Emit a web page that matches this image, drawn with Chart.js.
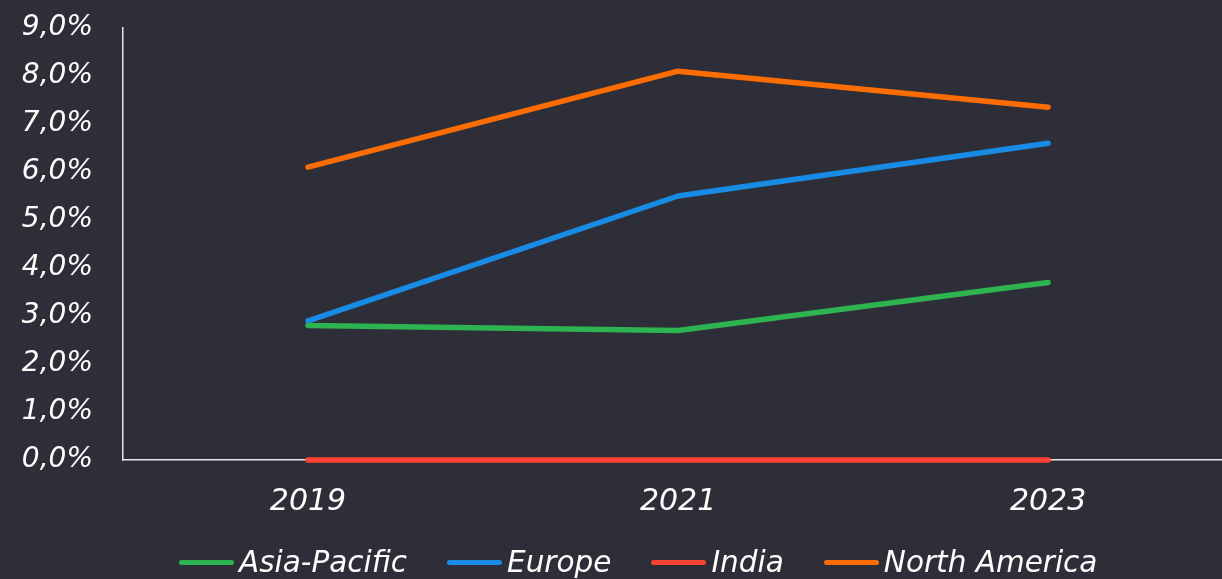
<!DOCTYPE html>
<html>
<head>
<meta charset="utf-8">
<script src="https://cdn.jsdelivr.net/npm/chart.js@4"></script>
<style>
  html, body { margin: 0; padding: 0; background: #2e2e38; }
  #wrap { position: relative; width: 1222px; height: 579px; }
  #legend {
    position: absolute; left: 179px; top: 545px;
    display: flex; gap: 40px;
    font-family: "DejaVu Sans"; font-style: italic; font-size: 29.5px;
    line-height: 35px; color: #ffffff; white-space: nowrap;
  }
  #legend .item { display: flex; align-items: center; }
  #legend .swatch { width: 55px; height: 5px; border-radius: 3px; margin-right: 5px; }
</style>
</head>
<body>
<div id="wrap">
  <canvas id="lineChart" width="1222" height="579"></canvas>
  <div id="legend"></div>
</div>
<script>
const CHART = document.getElementById('lineChart');

var years = [2019, 2021, 2023];
var seriesNames = ['Asia-Pacific', 'Europe', 'India', 'North America'];
var seriesColors = ['#2db350', '#188ce5', '#ff4136', '#ff6d00'];
var asiaPacific = [2.8, 2.7, 3.7];
var europe = [2.9, 5.5, 6.6];
var india = [0.0, 0.0, 0.0];
var northAmerica = [6.1, 8.1, 7.35];
var yTicks = [0, 1, 2, 3, 4, 5, 6, 7, 8, 9];

var seriesValues = [asiaPacific, europe, india, northAmerica];

var tickFont = { family: 'DejaVu Sans', style: 'italic', size: 30 };

var datasets = seriesNames.map(function(name, i) {
  return {
    label: name,
    data: years.map(function(y, j) { return { x: y, y: seriesValues[i][j] }; }),
    borderColor: seriesColors[i],
    backgroundColor: seriesColors[i],
    borderWidth: 5.5,
    borderCapStyle: 'round',
    borderJoinStyle: 'round',
    pointRadius: 0,
    pointHoverRadius: 0,
    tension: 0,
    fill: false,
    clip: false
  };
});

var lineChart = new Chart(CHART, {
  type: 'line',
  data: { datasets: datasets },
  options: {
    responsive: false,
    animation: false,
    events: [],
    layout: { padding: { top: 28, right: 0, bottom: 0, left: 0 } },
    plugins: {
      legend: { display: false },
      tooltip: { enabled: false }
    },
    scales: {
      x: {
        type: 'linear',
        min: 2018,
        max: 2023.94,
        afterBuildTicks: function(scale) {
          scale.ticks = years.map(function(v) { return { value: v }; });
        },
        afterFit: function(scale) {
          scale.height = 119;
          scale.paddingLeft = 0;
          scale.paddingRight = 0;
        },
        grid: { display: false },
        border: { display: true, color: '#e6e6e6', width: 1.5 },
        ticks: {
          color: '#ffffff',
          font: tickFont,
          padding: 16,
          maxRotation: 0,
          callback: function(v) { return String(v); }
        }
      },
      y: {
        min: 0,
        max: 9,
        afterBuildTicks: function(scale) {
          scale.ticks = yTicks.map(function(v) { return { value: v }; });
        },
        afterFit: function(scale) {
          scale.width = 123;
          scale.paddingTop = 0;
          scale.paddingBottom = 0;
        },
        grid: { display: false },
        border: { display: true, color: '#e6e6e6', width: 1.5 },
        ticks: {
          color: '#ffffff',
          font: { family: 'DejaVu Sans', style: 'italic', size: 28 },
          padding: 22,
          callback: function(v) { return v.toFixed(1).replace('.', ',') + '%'; }
        }
      }
    }
  }
});

// legend as html, same order as the series
var legend = document.getElementById('legend');
seriesNames.forEach(function(name, i) {
  var item = document.createElement('div');
  item.className = 'item';
  var sw = document.createElement('span');
  sw.className = 'swatch';
  sw.style.background = seriesColors[i];
  var txt = document.createElement('span');
  txt.textContent = name;
  item.appendChild(sw);
  item.appendChild(txt);
  legend.appendChild(item);
});
</script>
</body>
</html>
